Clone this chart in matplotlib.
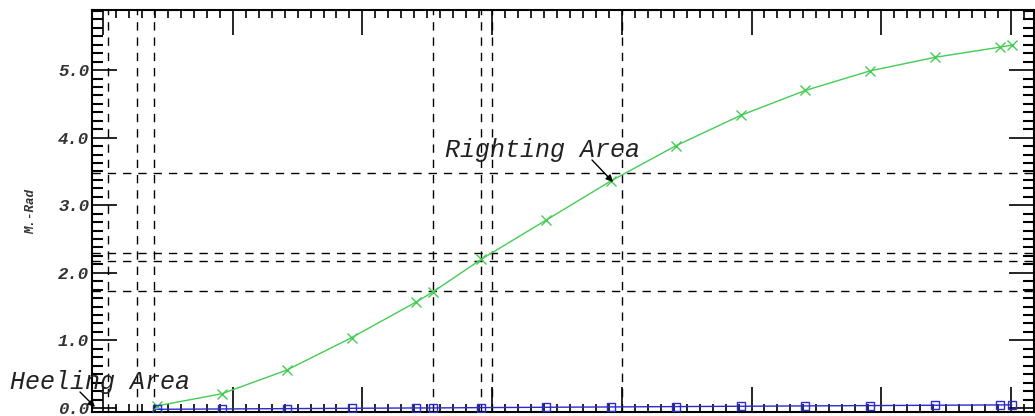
import numpy as np
import matplotlib.pyplot as plt
from matplotlib.ticker import FixedLocator, NullFormatter

# heel angle (deg) and the two area curves (m-rad)
angle = [0, 5, 10, 15, 20, 21.3, 25, 30, 35, 40, 45, 50, 55, 60, 65, 65.9]
righting = [0.03, 0.21, 0.56, 1.04, 1.57, 1.72, 2.20, 2.78, 3.36, 3.88, 4.33, 4.70, 4.99, 5.19, 5.34, 5.37]
heeling = [-0.02, -0.015, -0.01, -0.005, 0.0, 0.0, 0.005, 0.01, 0.015, 0.02, 0.025, 0.03, 0.035, 0.04, 0.045, 0.045]

vlines = [-3.78, -1.54, -0.23, 21.28, 24.98, 25.83, 35.85]
hlines = [1.73, 2.17, 2.29, 3.48]
yticks = [0, 1, 2, 3, 4, 5]
ytick_labels = ['0.0', '1.0', '2.0', '3.0', '4.0', '5.0']

mono = {'family': 'Liberation Mono', 'style': 'italic'}

fig = plt.figure(figsize=(10.35, 4.16), dpi=100)
ax = fig.add_axes([92 / 1035, 4 / 416, 942 / 1035, 402 / 416])

for x in vlines:
    ax.axvline(x, color='black', lw=1.0, ls=(0, (6, 5)), zorder=1)
for y in hlines:
    ax.axhline(y, color='black', lw=1.0, ls=(0, (6, 5)), zorder=1)

ax.plot(angle, righting, color='#44cc55', lw=1.0, marker='x', ms=7, mew=1.0, zorder=3)
ax.plot(angle, heeling, color='#2a2acc', lw=1.0, marker='s', ms=6, mfc='none', mew=1.0, zorder=3)

ax.set_xlim(-5.01, 67.62)
ax.set_ylim(-0.06, 5.89)

ax.xaxis.set_major_locator(FixedLocator(np.arange(-4.16, 67, 10.0)))
ax.xaxis.set_minor_locator(FixedLocator(np.arange(-4.16, 67.6, 1.0)))
ax.xaxis.set_major_formatter(NullFormatter())
ax.set_yticks(yticks)
ax.set_yticklabels(ytick_labels, fontdict=dict(mono, weight='bold', size=12.5), color='#333333')
ax.yaxis.set_minor_locator(FixedLocator(np.arange(-0.0, 5.9, 0.125)))

ax.tick_params(which='major', direction='in', top=True, right=True, length=18, width=1.2, pad=2)
ax.tick_params(which='minor', direction='in', top=True, right=True, length=6, width=1.2)
ax.tick_params(axis='y', which='minor', length=8, width=1.5)
for s in ax.spines.values():
    s.set_linewidth(1.5)

ax.set_ylabel('M.-Rad', fontdict=dict(mono, weight='bold', size=9), color='#333333')
ax.yaxis.set_label_coords(-0.058, 0.5)

txt = dict(fontsize=18, fontfamily='Liberation Mono', fontstyle='italic', color='#222222')
fig.text(445, 266, 'Righting Area', ha='left', va='center', transform=None, **txt)
fig.text(10, 34, 'Heeling Area', ha='left', va='center', transform=None, zorder=5, **txt)

ax.annotate('', xy=(613, 234), xycoords='figure pixels', xytext=(592, 256), textcoords='figure pixels',
            arrowprops=dict(arrowstyle='-|>', color='black', lw=1.0, shrinkA=0, shrinkB=0))
ax.annotate('', xy=(95, 9), xycoords='figure pixels', xytext=(80, 24), textcoords='figure pixels',
            annotation_clip=False,
            arrowprops=dict(arrowstyle='-|>', color='black', lw=1.0, shrinkA=0, shrinkB=0))

fig.savefig('out.png', dpi=100)
